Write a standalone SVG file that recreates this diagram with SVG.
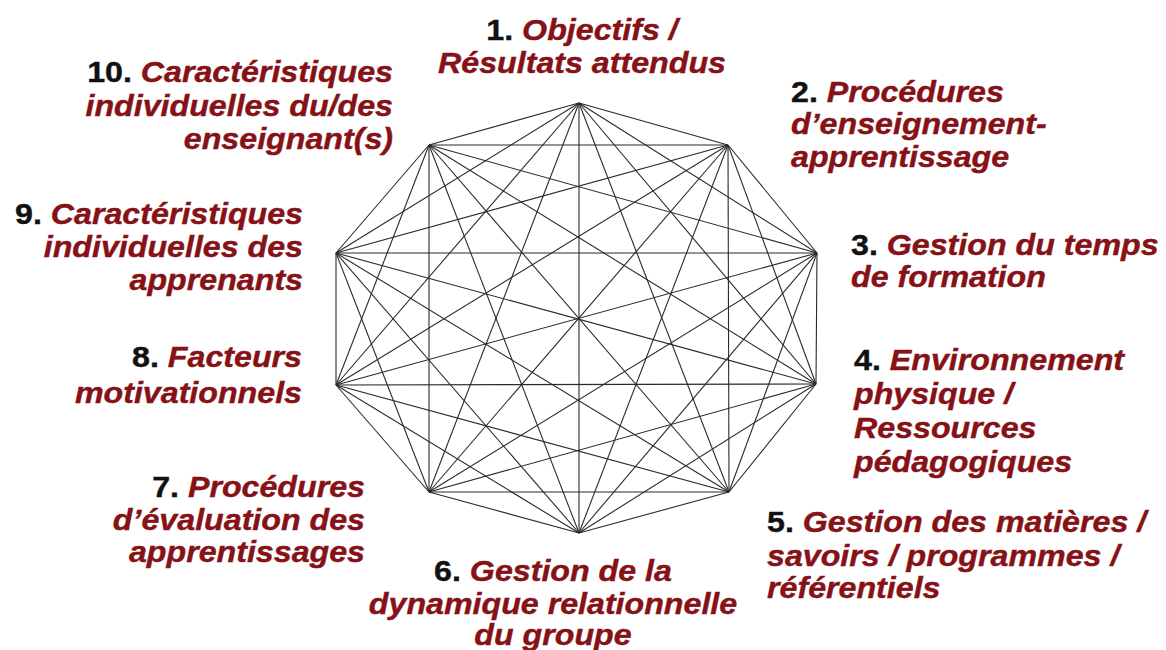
<svg xmlns="http://www.w3.org/2000/svg" width="1166" height="650" viewBox="0 0 1166 650">
<style>
text{font-family:"Liberation Sans",Arial,sans-serif;font-size:29px;font-weight:bold}
.n{fill:#111;stroke:#111;stroke-width:0.4;font-style:normal}
.t{fill:#861116;stroke:#861116;stroke-width:0.4;font-style:italic}
#connectors line{stroke:#2a2a2a;stroke-width:1.1;fill:none}
</style>
<rect width="1166" height="650" fill="#fff"/>
<g id="connectors">
<line x1="579" y1="103" x2="728" y2="145"/>
<line x1="579" y1="103" x2="817" y2="253"/>
<line x1="579" y1="103" x2="816" y2="384"/>
<line x1="579" y1="103" x2="729" y2="492"/>
<line x1="579" y1="103" x2="579" y2="533"/>
<line x1="579" y1="103" x2="429" y2="492"/>
<line x1="579" y1="103" x2="336" y2="385"/>
<line x1="579" y1="103" x2="336" y2="253"/>
<line x1="579" y1="103" x2="429" y2="145"/>
<line x1="728" y1="145" x2="817" y2="253"/>
<line x1="728" y1="145" x2="816" y2="384"/>
<line x1="728" y1="145" x2="729" y2="492"/>
<line x1="728" y1="145" x2="579" y2="533"/>
<line x1="728" y1="145" x2="429" y2="492"/>
<line x1="728" y1="145" x2="336" y2="385"/>
<line x1="728" y1="145" x2="336" y2="253"/>
<line x1="728" y1="145" x2="429" y2="145"/>
<line x1="817" y1="253" x2="816" y2="384"/>
<line x1="817" y1="253" x2="729" y2="492"/>
<line x1="817" y1="253" x2="579" y2="533"/>
<line x1="817" y1="253" x2="429" y2="492"/>
<line x1="817" y1="253" x2="336" y2="385"/>
<line x1="817" y1="253" x2="336" y2="253"/>
<line x1="817" y1="253" x2="429" y2="145"/>
<line x1="816" y1="384" x2="729" y2="492"/>
<line x1="816" y1="384" x2="579" y2="533"/>
<line x1="816" y1="384" x2="429" y2="492"/>
<line x1="816" y1="384" x2="336" y2="385"/>
<line x1="816" y1="384" x2="336" y2="253"/>
<line x1="816" y1="384" x2="429" y2="145"/>
<line x1="729" y1="492" x2="579" y2="533"/>
<line x1="729" y1="492" x2="429" y2="492"/>
<line x1="729" y1="492" x2="336" y2="385"/>
<line x1="729" y1="492" x2="336" y2="253"/>
<line x1="729" y1="492" x2="429" y2="145"/>
<line x1="579" y1="533" x2="429" y2="492"/>
<line x1="579" y1="533" x2="336" y2="385"/>
<line x1="579" y1="533" x2="336" y2="253"/>
<line x1="579" y1="533" x2="429" y2="145"/>
<line x1="429" y1="492" x2="336" y2="385"/>
<line x1="429" y1="492" x2="336" y2="253"/>
<line x1="429" y1="492" x2="429" y2="145"/>
<line x1="336" y1="385" x2="336" y2="253"/>
<line x1="336" y1="385" x2="429" y2="145"/>
<line x1="336" y1="253" x2="429" y2="145"/>
</g>
<g id="node1" transform="translate(582,0) scale(1.11,1)" text-anchor="middle">
<text x="0" y="40"><tspan class="n">1. </tspan><tspan class="t">Objectifs /</tspan></text>
<text x="0" y="73" class="t">Résultats attendus</text>
</g>
<g id="node2" transform="translate(791,0) scale(1.11,1)">
<text x="0" y="102"><tspan class="n">2. </tspan><tspan class="t">Procédures</tspan></text>
<text x="0" y="134" class="t">d’enseignement-</text>
<text x="0" y="167" class="t">apprentissage</text>
</g>
<g id="node3" transform="translate(851,0) scale(1.11,1)">
<text x="0" y="255"><tspan class="n">3. </tspan><tspan class="t">Gestion du temps</tspan></text>
<text x="0" y="287" class="t">de formation</text>
</g>
<g id="node4" transform="translate(854,0) scale(1.11,1)">
<text x="0" y="370"><tspan class="n">4. </tspan><tspan class="t">Environnement</tspan></text>
<text x="0" y="404" class="t">physique /</text>
<text x="0" y="438" class="t">Ressources</text>
<text x="0" y="472" class="t">pédagogiques</text>
</g>
<g id="node5" transform="translate(767,0) scale(1.11,1)">
<text x="0" y="532"><tspan class="n">5. </tspan><tspan class="t">Gestion des matières /</tspan></text>
<text x="0" y="566" class="t">savoirs / programmes /</text>
<text x="0" y="598" class="t">référentiels</text>
</g>
<g id="node6" transform="translate(553,0) scale(1.11,1)" text-anchor="middle">
<text x="0" y="581"><tspan class="n">6. </tspan><tspan class="t">Gestion de la</tspan></text>
<text x="0" y="614" class="t">dynamique relationnelle</text>
<text x="0" y="645" class="t">du groupe</text>
</g>
<g id="node7" transform="translate(365,0) scale(1.11,1)" text-anchor="end">
<text x="0" y="497"><tspan class="n">7. </tspan><tspan class="t">Procédures</tspan></text>
<text x="0" y="530" class="t">d’évaluation des</text>
<text x="0" y="562" class="t">apprentissages</text>
</g>
<g id="node8" transform="translate(302,0) scale(1.11,1)" text-anchor="end">
<text x="0" y="367"><tspan class="n">8. </tspan><tspan class="t">Facteurs</tspan></text>
<text x="0" y="403" class="t">motivationnels</text>
</g>
<g id="node9" transform="translate(303,0) scale(1.11,1)" text-anchor="end">
<text x="0" y="224"><tspan class="n">9. </tspan><tspan class="t">Caractéristiques</tspan></text>
<text x="0" y="257" class="t">individuelles des</text>
<text x="0" y="290" class="t">apprenants</text>
</g>
<g id="node10" transform="translate(393,0) scale(1.11,1)" text-anchor="end">
<text x="0" y="82"><tspan class="n">10. </tspan><tspan class="t">Caractéristiques</tspan></text>
<text x="0" y="116" class="t">individuelles du/des</text>
<text x="0" y="149" class="t">enseignant(s)</text>
</g>
</svg>
